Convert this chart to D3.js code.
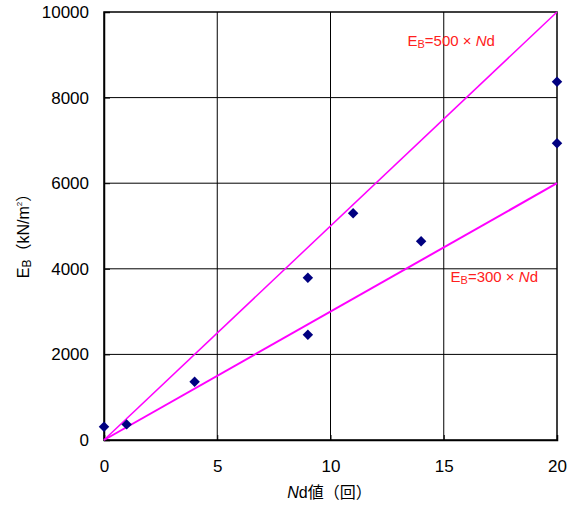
<!DOCTYPE html>
<html>
<head>
<meta charset="utf-8">
<script src="https://cdn.jsdelivr.net/npm/d3@7"></script>
<style>
  body { margin: 0; background: #fff; }
  text { font-family: "Liberation Sans", "Noto Sans CJK JP", sans-serif; }
</style>
</head>
<body>
<svg id="chart" width="573" height="506"></svg>
<script>
//data
const ndValues = [0, 1, 4, 9, 9, 11, 14, 20, 20];
const ebValues = [310, 365, 1360, 2460, 3790, 5300, 4645, 8370, 6935];
const xTicks = [0, 5, 10, 15, 20];
const yTicks = [0, 2000, 4000, 6000, 8000, 10000];
const ratios = [500, 300];
const lineLabels = ["500", "300"];

//plot area
const margin = { top: 12, right: 16, bottom: 66, left: 104 };
const width = 573 - margin.left - margin.right;
const height = 506 - margin.top - margin.bottom;

const svg = d3.select("#chart")
    .append("g")
    .attr("transform", `translate(${margin.left},${margin.top})`);

const x = d3.scaleLinear().domain([0, 20]).range([0, width]);
const y = d3.scaleLinear().domain([0, 10000]).range([height, 0]);

//grid lines
svg.selectAll(".vgrid")
    .data(xTicks.slice(1, -1))
    .join("line")
    .attr("x1", d => x(d)).attr("x2", d => x(d))
    .attr("y1", 0).attr("y2", height)
    .attr("stroke", "#000").attr("stroke-width", 1);
svg.selectAll(".hgrid")
    .data(yTicks.slice(1, -1))
    .join("line")
    .attr("x1", 0).attr("x2", width)
    .attr("y1", d => y(d)).attr("y2", d => y(d))
    .attr("stroke", "#000").attr("stroke-width", 1);

//frame
svg.append("rect")
    .attr("width", width).attr("height", height)
    .attr("fill", "none").attr("stroke", "#000").attr("stroke-width", 1.5);

//axes
const xAxis = svg.append("g")
    .attr("transform", `translate(0,${height})`)
    .call(d3.axisBottom(x).tickValues(xTicks).tickFormat(d3.format("d")).tickSize(-5).tickPadding(20));
const yAxis = svg.append("g")
    .call(d3.axisLeft(y).tickValues(yTicks).tickFormat(d3.format("d")).tickSize(-6).tickPadding(15));
[xAxis, yAxis].forEach(a => {
    a.select(".domain").attr("stroke", "#000").attr("stroke-width", 1.5);
    a.selectAll(".tick line").attr("stroke", "#000");
    a.selectAll("text").attr("fill", "#000").style("font-size", "17px");
});

//reference lines Eb = k * Nd
svg.selectAll(".refline")
    .data(ratios)
    .join("line")
    .attr("x1", x(0)).attr("y1", y(0))
    .attr("x2", x(20)).attr("y2", d => y(d * 20))
    .attr("stroke", "#ff00ff")
    .attr("stroke-width", (d, i) => i === 0 ? 1.5 : 2);

//data points as diamonds
svg.selectAll(".pt")
    .data(ndValues)
    .join("path")
    .attr("d", d3.symbol(d3.symbolSquare, 55))
    .attr("transform", (d, i) => `translate(${x(d)},${y(ebValues[i])}) rotate(45)`)
    .attr("fill", "#000080");

//line labels
const labelPos = [{ nd: 13.4, eb: 9200 }, { nd: 15.3, eb: 3700 }];
lineLabels.forEach((k, i) => {
    const t = svg.append("text")
        .attr("x", x(labelPos[i].nd))
        .attr("y", y(labelPos[i].eb))
        .attr("fill", "#ff2020")
        .style("font-size", "15px");
    t.append("tspan").text("E");
    t.append("tspan").text("B").style("font-size", "11px").attr("dy", 2);
    t.append("tspan").text(`=${k} × `).attr("dy", -2);
    t.append("tspan").text("N").style("font-style", "italic");
    t.append("tspan").text("d");
});

//axis titles
const xt = svg.append("text")
    .attr("x", x(10) - 1)
    .attr("y", height + 58)
    .attr("text-anchor", "middle")
    .style("font-size", "16px");
xt.append("tspan").text("N").style("font-style", "italic");
xt.append("tspan").text("d値（回）");

const yt = svg.append("text")
    .attr("transform", `translate(${29 - margin.left},${232 - margin.top}) rotate(-90)`)
    .attr("text-anchor", "middle")
    .style("font-size", "16px");
yt.append("tspan").text("E");
yt.append("tspan").text("B").style("font-size", "12px").attr("dy", 2);
yt.append("tspan").text("（kN/m").attr("dy", -2);
yt.append("tspan").text("2").style("font-size", "8px").attr("dy", -7);
yt.append("tspan").text("）").attr("dy", 7);
</script>
</body>
</html>
